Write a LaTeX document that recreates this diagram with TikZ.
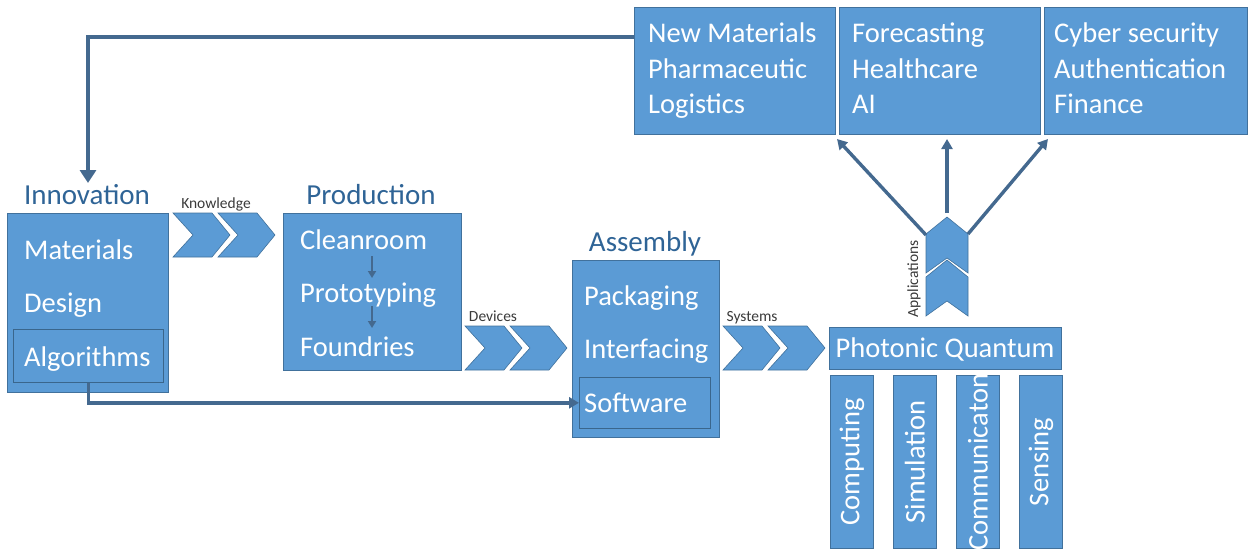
\documentclass[tikz,border=0pt]{standalone}
\usepackage{fontspec}
\setmainfont{Carlito}
\usetikzlibrary{arrows.meta}
\definecolor{qblue}{HTML}{5B9BD5}
\definecolor{qborder}{HTML}{41719C}
\definecolor{qtitle}{HTML}{2F6496}
\definecolor{qline}{HTML}{44698F}
\definecolor{qsmall}{HTML}{3A3A3A}
\tikzset{
  box/.style={fill=qblue, draw=qborder, line width=0.8pt, inner sep=0pt, anchor=north west},
  subbox/.style={draw=qborder!90!black, line width=0.6pt, inner sep=0pt, anchor=north west},
  txt/.style={text=white, font=\fontsize{28.5}{30}\selectfont, inner sep=0pt},
  ttl/.style={text=qtitle, font=\fontsize{29}{30}\selectfont, inner sep=0pt, anchor=base},
  small/.style={text=qsmall, font=\fontsize{15.5}{16}\selectfont, inner sep=0pt, anchor=base},
  flow/.style={draw=qline, line width=3.4pt, -{Triangle[length=10pt,width=11pt]}},
  bigflow/.style={draw=qline, line width=3.6pt, -{Triangle[length=13pt,width=16pt]}},
  thinflow/.style={draw=qline, line width=2.2pt, -{Triangle[length=7pt,width=8pt]}},
  chev/.pic={\path[fill=qblue, draw=qborder, line width=0.6pt]
     (0,0) -- (39,0) -- (57,22) -- (39,44) -- (0,44) -- (20,22) -- cycle;},
  upchev/.pic={\path[fill=qblue, draw=qborder, line width=0.6pt]
     (21,0) -- (42,17) -- (42,56) -- (21,41) -- (0,56) -- (0,17) -- cycle;}
}
\begin{document}
\begin{tikzpicture}[x=1pt,y=-1pt]
\useasboundingbox (0,0) rectangle (1250,550);

% application boxes along the top
\node[box, minimum width=201pt, minimum height=127pt] (app1) at (634,7) {};
\node[box, minimum width=201pt, minimum height=127pt] (app2) at (839,7) {};
\node[box, minimum width=203pt, minimum height=127pt] (app3) at (1044,7) {};
\node[txt, anchor=base west] (a11) at (648,42) {New Materials};
\node[txt, anchor=base west] (a12) at (648,78) {Pharmaceutic};
\node[txt, anchor=base west] (a13) at (648,113) {Logistics};
\node[txt, anchor=base west] (a21) at (852,42) {Forecasting};
\node[txt, anchor=base west] (a22) at (852,78) {Healthcare};
\node[txt, anchor=base west] (a23) at (852,113) {AI};
\node[txt, anchor=base west] (a31) at (1054,42) {Cyber security};
\node[txt, anchor=base west] (a32) at (1054,78) {Authentication};
\node[txt, anchor=base west] (a33) at (1054,113) {Finance};

% innovation
\node[ttl] (innot) at (87,204) {Innovation};
\node[box, minimum width=161pt, minimum height=179pt] (inno) at (7,213) {};
\node[subbox, minimum width=150pt, minimum height=53pt] (algbox) at (13,329) {};
\node[txt, anchor=base west] (mat) at (24,259) {Materials};
\node[txt, anchor=base west] (des) at (24,312) {Design};
\node[txt, anchor=base west] (alg) at (24,366) {Algorithms};

% knowledge chevrons
\pic at (173,213) {chev};
\pic at (218,213) {chev};
\node[small] (know) at (216,208) {Knowledge};

% production
\node[ttl] (prodt) at (371,204) {Production};
\node[box, minimum width=178pt, minimum height=157pt] (prod) at (283,213) {};
\node[txt, anchor=base west] (clean) at (300,249) {Cleanroom};
\node[txt, anchor=base west] (proto) at (300,302) {Prototyping};
\node[txt, anchor=base west] (found) at (300,356) {Foundries};
\coordinate (p1a) at (372,256);
\coordinate (p1b) at (372,278);
\coordinate (p2a) at (372,306);
\coordinate (p2b) at (372,328);
\draw[thinflow] (p1a) -- (p1b);
\draw[thinflow] (p2a) -- (p2b);

% devices chevrons
\pic at (465,326) {chev};
\pic at (510,326) {chev};
\node[small] (dev) at (493,321) {Devices};

% assembly
\node[ttl] (asst) at (645,251) {Assembly};
\node[box, minimum width=147pt, minimum height=177pt] (ass) at (572,260) {};
\node[subbox, minimum width=131pt, minimum height=51pt] (softbox) at (579,377) {};
\node[txt, anchor=base west] (pack) at (584,305) {Packaging};
\node[txt, anchor=base west] (intf) at (584,358) {Interfacing};
\node[txt, anchor=base west] (soft) at (584,412) {Software};

% systems chevrons
\pic at (723,326) {chev};
\pic at (768,326) {chev};
\node[small] (sys) at (752,321) {Systems};

% photonic quantum
\node[box, minimum width=232pt, minimum height=42pt] (pq) at (829,327) {};
\node[txt, anchor=base] (pqt) at (945,357) {Photonic Quantum};
\node[box, minimum width=43pt, minimum height=173pt] (c1) at (830,375) {};
\node[box, minimum width=43pt, minimum height=173pt] (c2) at (893,375) {};
\node[box, minimum width=43pt, minimum height=173pt] (c3) at (956,375) {};
\node[box, minimum width=43pt, minimum height=173pt] (c4) at (1019,375) {};
\node[txt, rotate=90] at (c1.center) {Computing};
\node[txt, rotate=90] at (c2.center) {Simulation};
\node[txt, rotate=90] at (c3.center) {Communicaton};
\node[txt, rotate=90] at (c4.center) {Sensing};

% applications chevrons
\pic at (926,260) {upchev};
\pic at (926,217) {upchev};
\node[small, anchor=center, rotate=90] (appl) at (914,279) {Applications};
\coordinate (s1) at (926,235);
\coordinate (s2) at (947,213);
\coordinate (s3) at (968,234);
\coordinate (e1) at (837,139);
\coordinate (e2) at (947,139);
\coordinate (e3) at (1048,139);
\draw[flow] (s1) -- (e1);
\draw[flow] (s2) -- (e2);
\draw[flow] (s3) -- (e3);

% feedback loop and algorithm link
\coordinate (fbs) at (634,37);
\coordinate (fbe) at (88,183);
\draw[bigflow] (fbs) -| (fbe);
\draw[flow] (algbox.south) |- (softbox.west);
\end{tikzpicture}
\end{document}
